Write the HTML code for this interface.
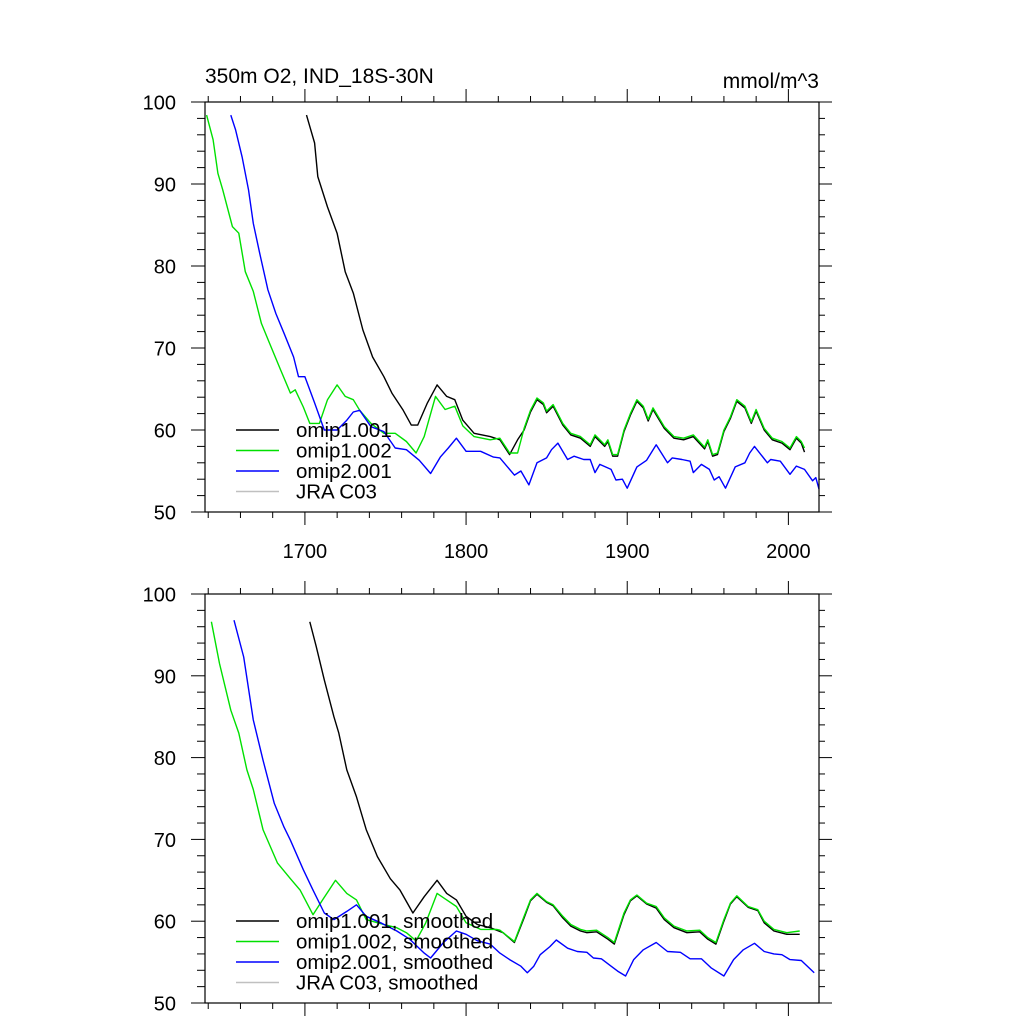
<!DOCTYPE html>
<html><head><meta charset="utf-8"><style>
html,body{margin:0;padding:0;background:#fff}
svg{display:block;font-family:"Liberation Sans",sans-serif}
</style></head><body>
<svg id="chart" width="1024" height="1024" viewBox="0 0 1024 1024" xmlns="http://www.w3.org/2000/svg">
<text x="205" y="83" font-size="21">350m O2, IND_18S-30N</text>
<text x="819" y="88" font-size="21" text-anchor="end">mmol/m^3</text>
</svg>
<script>
// ---- data ----
const xTickLabels = ["1700","1800","1900","2000"];
const yTickLabels = ["50","60","70","80","90","100"];
const legendTop = ["omip1.001","omip1.002","omip2.001","JRA C03"];
const legendBottom = ["omip1.001, smoothed","omip1.002, smoothed","omip2.001, smoothed","JRA C03, smoothed"];
const seriesColors = ["#000000","#00e000","#0000ff","#c0c0c0"];

const blackYears = [1701,1706,1708,1714,1720,1725,1730,1736,1742,1749,1754,1761,1766,1770,1776,1782,1788,1793,1798,1805,1815,1821,1827,1832,1836,1840,1844,1848,1850,1854,1860,1865,1871,1877,1880,1886,1888,1891,1894,1898,1902,1906,1910,1913,1916,1923,1929,1935,1941,1948,1950,1953,1956,1960,1964,1968,1973,1977,1980,1985,1990,1996,2001,2005,2008,2010];
const blackVals = [98.4,95,90.9,87.2,84,79.3,76.7,72.2,68.9,66.5,64.5,62.4,60.6,60.6,63.3,65.5,64.1,63.7,61.2,59.6,59.2,58.8,57,58.8,60,62.2,63.7,63.1,62.1,62.9,60.6,59.4,59,58,59.2,58,58.6,56.8,56.8,59.8,61.8,63.5,62.7,61.1,62.5,60.2,59,58.8,59.2,57.7,58.6,56.8,57,59.8,61.4,63.5,62.7,60.8,62.3,60,58.8,58.4,57.6,59,58.4,57.3];

const greenYears = [1639,1643,1646,1649,1655,1659,1663,1668,1673,1678,1685,1691,1694,1699,1703,1709,1714,1720,1725,1730,1734,1741,1749,1756,1763,1769,1774,1781,1787,1793,1798,1805,1815,1821,1827,1832,1836,1840,1844,1848,1850,1854,1860,1865,1871,1877,1880,1886,1888,1891,1894,1898,1902,1906,1910,1913,1916,1923,1929,1935,1941,1948,1950,1953,1956,1960,1964,1968,1973,1977,1980,1985,1990,1996,2001,2005,2008,2010];
const greenVals = [98.4,95.4,91.3,89.3,84.8,84,79.3,76.9,73,70.6,67.3,64.5,64.9,62.8,60.8,60.8,63.7,65.5,64.1,63.7,62.4,60.8,59.6,59.6,58.6,57.2,59.2,64.1,62.5,62.9,60.5,59.2,58.8,59,57.2,57.2,60.2,62.4,63.9,63.3,62.3,63.1,60.8,59.6,59.2,58.2,59.4,58.2,58.8,57,57,60,62,63.7,62.9,61.3,62.7,60.4,59.2,59,59.4,57.9,58.8,57,57.2,60,61.6,63.7,62.9,61,62.5,60.2,59,58.6,57.8,59.2,58.6,57.8];

const blueYears = [1654,1657,1661,1665,1668,1672,1677,1682,1687,1693,1696,1700,1706,1712,1720,1726,1730,1734,1741,1749,1756,1763,1771,1778,1784,1789,1794,1800,1809,1817,1821,1830,1834,1839,1844,1850,1853,1857,1863,1867,1873,1877,1880,1883,1890,1893,1897,1900,1906,1912,1918,1925,1928,1934,1939,1941,1946,1951,1954,1957,1961,1967,1973,1976,1979,1987,1989,1995,2001,2005,2010,2015,2017,2019];
const blueVals = [98.4,96.6,93.3,89.3,85.2,81.5,77.1,74.2,71.8,68.9,66.5,66.5,63.3,60,60,61.2,62.2,62.4,60.4,59.8,57.8,57.6,56.3,54.7,56.7,57.8,59,57.4,57.4,56.7,56.6,54.5,55,53.3,56,56.6,57.6,58.4,56.4,56.8,56.4,56.4,54.8,55.8,55.2,53.9,54,52.9,55.5,56.3,58.2,56,56.6,56.4,56.2,54.8,55.8,55.2,53.9,54.3,52.9,55.5,56,57.2,58,56,56.4,56.2,54.6,55.6,55.2,53.8,54.2,52.8];

const sBlackYears = [1703,1707,1712,1718,1721,1726,1732,1738,1745,1753,1759,1767,1774,1782,1788,1794,1800,1807,1815,1823,1830,1836,1840,1844,1850,1854,1860,1865,1871,1875,1881,1888,1892,1898,1902,1906,1912,1918,1923,1929,1937,1945,1950,1955,1960,1964,1968,1975,1981,1985,1991,1999,2007];
const sBlackVals = [96.6,93.6,89.5,85,83,78.5,75.2,71.2,67.9,65.2,63.8,61,63,65,63.4,62.6,60.6,59.6,59.2,58.6,57.4,60.4,62.5,63.3,62.3,61.9,60.4,59.4,58.8,58.6,58.7,57.8,57.2,60.8,62.5,63.1,62.1,61.6,60.2,59.2,58.6,58.7,57.8,57.2,60,62.1,63,61.7,61.3,59.8,58.8,58.4,58.4];

const sGreenYears = [1642,1647,1654,1659,1664,1668,1674,1683,1691,1697,1705,1711,1719,1726,1732,1738,1749,1757,1763,1769,1775,1782,1788,1794,1800,1809,1819,1821,1830,1836,1840,1844,1850,1854,1860,1865,1871,1875,1881,1888,1892,1898,1902,1906,1912,1918,1923,1929,1937,1945,1950,1955,1960,1964,1968,1975,1981,1985,1991,1999,2007];
const sGreenVals = [96.6,91.5,85.8,83,78.5,76.1,71.2,67.1,65.2,63.8,60.8,62.6,65,63.4,62.6,60.2,59.6,59.2,58.6,57.6,59.8,63.4,62.6,61.8,59.8,59,59,58.9,57.5,60.6,62.6,63.4,62.4,62,60.6,59.6,59,58.8,58.9,58,57.4,61,62.6,63.2,62.2,61.8,60.4,59.4,58.8,58.9,58,57.4,60.2,62.2,63.1,61.8,61.4,60,59,58.6,58.8];

const sBlueYears = [1656,1662,1668,1674,1681,1687,1691,1699,1705,1712,1718,1726,1732,1738,1747,1757,1765,1774,1778,1786,1794,1800,1807,1815,1821,1827,1834,1838,1842,1846,1852,1856,1863,1869,1875,1879,1884,1890,1894,1899,1904,1910,1918,1925,1933,1939,1946,1952,1960,1966,1972,1979,1985,1991,1996,2001,2008,2016];
const sBlueVals = [96.8,92.3,84.6,79.7,74.4,71.5,69.9,66.3,63.8,61,60.2,61.2,62,60.6,59.8,58.8,57.8,56.1,55.5,57.4,58.8,58.4,57.6,57.2,56.1,55.3,54.5,53.7,54.5,55.9,56.9,57.7,56.7,56.3,56.2,55.5,55.4,54.5,53.9,53.3,55.3,56.5,57.4,56.3,56.2,55.4,55.4,54.3,53.3,55.3,56.5,57.3,56.3,56,55.9,55.3,55.2,53.7];

// ---- layout ----
const svg = document.getElementById('chart');
const NS = 'http://www.w3.org/2000/svg';
const X0 = 205, X1 = 819, YR0 = 1638, YR1 = 2019;
function xScale(yr){ return X0 + (yr - YR0) / (YR1 - YR0) * (X1 - X0); }
function mk(tag, attrs){ const e = document.createElementNS(NS, tag); for (const k in attrs) e.setAttribute(k, attrs[k]); return e; }

function drawPanel(top, bottom, showXLabels, series, legendLabels, legendY, name){
  const g = mk('g', {});
  
  
  svg.appendChild(g);
  const yScale = v => bottom - (v - 50) / 50 * (bottom - top);
  series.forEach((s, i) => {
    const pts = s.years.map((yr, j) => xScale(yr).toFixed(1) + ',' + yScale(s.vals[j]).toFixed(1)).join(' ');
    const pl = mk('polyline', {points: pts, fill: 'none', stroke: seriesColors[i], 'stroke-width': 1.4, 'stroke-linejoin': 'round'});
    
    
    g.appendChild(pl);
  });
  const fr = mk('rect', {x: X0, y: top, width: X1 - X0, height: bottom - top, fill: 'none', stroke: '#000', 'stroke-width': 1.2});
  
  
  g.appendChild(fr);
  for (let yr = 1640; yr <= 2019; yr += 20) {
    const major = (yr % 100 === 0);
    const x = xScale(yr);
    const len = major ? 13 : 6;
    const t1 = mk('line', {x1: x, x2: x, y1: bottom, y2: bottom + len, stroke: '#000', 'stroke-width': 1});
    
    
    g.appendChild(t1);
    const t2 = mk('line', {x1: x, x2: x, y1: top, y2: top - len, stroke: '#000', 'stroke-width': 1});
    
    
    g.appendChild(t2);
  }
  if (showXLabels) {
    xTickLabels.forEach(l => {
      const t = mk('text', {x: xScale(+l), y: bottom + 46, 'font-size': 20, 'text-anchor': 'middle'});
      t.textContent = l;
      
      
      g.appendChild(t);
    });
  }
  for (let v = 50; v <= 100; v += 2) {
    const major = (v % 10 === 0);
    const y = yScale(v);
    const t1 = mk('line', {x1: X0, x2: X0 - (major ? 14 : 8), y1: y, y2: y, stroke: '#000', 'stroke-width': 1});
    
    
    g.appendChild(t1);
    const t2 = mk('line', {x1: X1, x2: X1 + (major ? 13 : 6), y1: y, y2: y, stroke: '#000', 'stroke-width': 1});
    
    
    g.appendChild(t2);
  }
  yTickLabels.forEach(l => {
    const t = mk('text', {x: 176, y: yScale(+l) + 7.5, 'font-size': 20, 'text-anchor': 'end'});
    t.textContent = l;
    
    
    g.appendChild(t);
  });
  legendLabels.forEach((l, i) => {
    const y = legendY + i * 20.5;
    const ln = mk('line', {x1: 236, x2: 279, y1: y, y2: y, stroke: seriesColors[i], 'stroke-width': 1.4});
    
    
    g.appendChild(ln);
    const t = mk('text', {x: 296, y: y + 7, 'font-size': 20.5});
    t.textContent = l;
    
    
    g.appendChild(t);
  });
}

drawPanel(102, 512, true, [
  {name: 'omip1-001-line', years: blackYears, vals: blackVals},
  {name: 'omip1-002-line', years: greenYears, vals: greenVals},
  {name: 'omip2-001-line', years: blueYears, vals: blueVals}
], legendTop, 430, 'top-panel');

drawPanel(594, 1003, false, [
  {name: 'omip1-001-smoothed-line', years: sBlackYears, vals: sBlackVals},
  {name: 'omip1-002-smoothed-line', years: sGreenYears, vals: sGreenVals},
  {name: 'omip2-001-smoothed-line', years: sBlueYears, vals: sBlueVals}
], legendBottom, 921, 'bottom-panel');
</script>
</body></html>
